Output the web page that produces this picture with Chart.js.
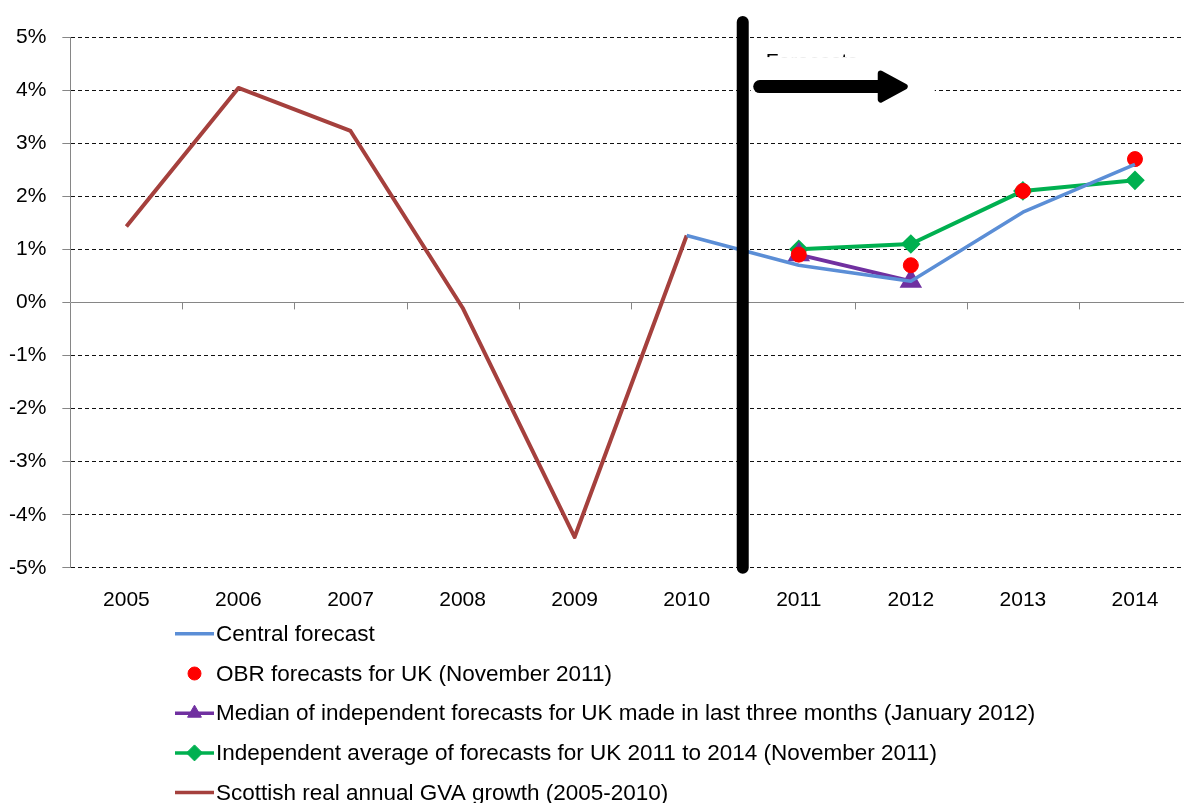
<!DOCTYPE html>
<html>
<head>
<meta charset="utf-8">
<title>Scottish GVA growth and forecasts</title>
<script src="https://cdn.jsdelivr.net/npm/chart.js@4.4.1/dist/chart.umd.min.js"></script>
<style>
  html, body { margin: 0; padding: 0; background: #fff; overflow: hidden; }
</style>
</head>
<body>
<canvas id="chart" width="1204" height="803"></canvas>
<script>
const years = ['2005', '2006', '2007', '2008', '2009', '2010', '2011', '2012', '2013', '2014']

// annual growth, %
const centralForecast = [null, null, null, null, null, 1.26, 0.7, 0.4, 1.7, 2.6]
const obrForecast     = [null, null, null, null, null, null, 0.9, 0.7, 2.1, 2.7]
const medianForecast  = [null, null, null, null, null, null, 0.9, 0.4, null, null]
const independentAvg  = [null, null, null, null, null, null, 1.0, 1.1, 2.1, 2.3]
const scottishGva     = [1.43, 4.04, 3.23, -0.1, -4.42, 1.26, null, null, null, null]

const seriesLabels = [
  'Central forecast',
  'OBR forecasts for UK (November 2011)',
  'Median of independent forecasts for UK made in last three months (January 2012)',
  'Independent average of forecasts for UK 2011 to 2014 (November 2011)',
  'Scottish real annual GVA growth (2005-2010)'
]

const yMin = -5
const yMax = 5
const forecastLabel = 'Forecasts'

const FONT = 'Liberation Sans, Arial, sans-serif'
const AXIS_GREY = '#868686'

// thick black divider between actuals and forecasts, plus the arrow
const forecastMarker = {
  id: 'forecastMarker',
  afterDatasetsDraw(chart) {
    const { ctx, scales: { x, y } } = chart
    const barX = (x.getPixelForValue(5) + x.getPixelForValue(6)) / 2

    // small ticks on the zero line at category boundaries
    const zeroY = y.getPixelForValue(0)
    ctx.save()
    ctx.strokeStyle = AXIS_GREY
    ctx.lineWidth = 1
    for (let i = 1; i < years.length; i++) {
      const bx = Math.round((x.getPixelForValue(i - 1) + x.getPixelForValue(i)) / 2) + 0.5
      ctx.beginPath()
      ctx.moveTo(bx, zeroY)
      ctx.lineTo(bx, zeroY + 7)
      ctx.stroke()
    }
    ctx.restore()

    // label peeking out above its text box
    const arrowY = y.getPixelForValue(4) - 3.5
    ctx.save()
    ctx.fillStyle = '#000'
    ctx.font = '21px ' + FONT
    ctx.textBaseline = 'alphabetic'
    ctx.fillText(forecastLabel, barX + 23, arrowY - 19)
    ctx.fillStyle = '#fff'
    ctx.fillRect(barX + 8, arrowY - 29.5, 184, 60)
    ctx.restore()

    // arrow
    ctx.save()
    ctx.fillStyle = '#000'
    ctx.strokeStyle = '#000'
    ctx.lineJoin = 'round'
    ctx.lineCap = 'round'
    ctx.lineWidth = 13
    ctx.beginPath()
    ctx.moveTo(barX + 17, arrowY)
    ctx.lineTo(barX + 138, arrowY)
    ctx.stroke()
    ctx.lineWidth = 6
    ctx.beginPath()
    ctx.moveTo(barX + 138, arrowY - 13)
    ctx.lineTo(barX + 162, arrowY)
    ctx.lineTo(barX + 138, arrowY + 13)
    ctx.closePath()
    ctx.fill()
    ctx.stroke()
    ctx.restore()

    // divider
    ctx.save()
    ctx.strokeStyle = '#000'
    ctx.lineWidth = 12
    ctx.lineCap = 'round'
    ctx.beginPath()
    ctx.moveTo(barX, y.top - 15)
    ctx.lineTo(barX, y.bottom)
    ctx.stroke()
    ctx.restore()
  }
}

// vertical legend under the x axis
const listLegend = {
  id: 'listLegend',
  afterDraw(chart) {
    const { ctx, chartArea } = chart
    const top = chartArea.bottom + 66
    const row = 39.7
    const swL = 175, swR = 214, textX = 216
    ctx.save()
    ctx.font = '22.5px ' + FONT
    ctx.textBaseline = 'middle'
    chart.data.datasets.forEach((ds, i) => {
      const cy = top + i * row
      if (ds.showLine !== false) {
        ctx.strokeStyle = ds.borderColor
        ctx.lineWidth = 3.5
        ctx.beginPath()
        ctx.moveTo(swL, cy)
        ctx.lineTo(swR, cy)
        ctx.stroke()
      }
      if (ds.pointRadius) {
        ctx.fillStyle = ds.pointBackgroundColor
        ctx.strokeStyle = ds.pointBorderColor
        ctx.lineWidth = 1
        Chart.helpers.drawPoint(ctx, {
          pointStyle: ds.pointStyle,
          radius: ds.pointStyle === 'circle' ? 6.5 : 8,
          borderWidth: 1,
          rotation: 0
        }, (swL + swR) / 2, cy)
      }
      ctx.fillStyle = '#000'
      ctx.fillText(ds.label, textX, cy + 1)
    })
    ctx.restore()
  }
}

new Chart(document.getElementById('chart'), {
  type: 'line',
  data: {
    labels: years,
    datasets: [
      {
        label: seriesLabels[0],
        data: centralForecast,
        borderColor: '#5B8ED6',
        borderWidth: 3.5,
        pointRadius: 0,
        spanGaps: false
      },
      {
        label: seriesLabels[1],
        data: obrForecast,
        showLine: false,
        pointStyle: 'circle',
        pointRadius: 7.5,
        pointBackgroundColor: '#FF0000',
        pointBorderColor: '#FF0000',
        borderColor: '#FF0000'
      },
      {
        label: seriesLabels[2],
        data: medianForecast,
        borderColor: '#7030A0',
        borderWidth: 4,
        pointStyle: 'triangle',
        pointRadius: 9,
        pointBackgroundColor: '#7030A0',
        pointBorderColor: '#7030A0'
      },
      {
        label: seriesLabels[3],
        data: independentAvg,
        borderColor: '#00B050',
        borderWidth: 4,
        pointStyle: 'rectRot',
        pointRadius: 7,
        pointBackgroundColor: '#00B050',
        pointBorderColor: '#00B050'
      },
      {
        label: seriesLabels[4],
        data: scottishGva,
        borderColor: '#A5403D',
        borderWidth: 4,
        pointRadius: 0
      }
    ]
  },
  options: {
    responsive: false,
    animation: false,
    devicePixelRatio: 1,
    layout: { padding: { left: -7, top: 37, right: 0, bottom: 170 } },
    plugins: {
      legend: { display: false },
      tooltip: { enabled: false }
    },
    elements: { line: { tension: 0, borderJoinStyle: 'round' } },
    scales: {
      x: {
        offset: true,
        grid: { display: false, drawTicks: false },
        border: { display: false },
        ticks: {
          color: '#000',
          font: { size: 21, family: FONT },
          padding: 20,
          maxRotation: 0,
          autoSkip: false
        }
      },
      y: {
        min: yMin,
        max: yMax,
        ticks: {
          stepSize: 1,
          color: '#000',
          font: { size: 21, family: FONT },
          padding: 16,
          callback: v => v + '%'
        },
        grid: {
          color: ctx => (ctx.tick && ctx.tick.value === 0 ? AXIS_GREY : '#111'),
          lineWidth: 1,
          tickLength: 8,
          tickColor: AXIS_GREY,
          tickBorderDash: []
        },
        border: {
          color: AXIS_GREY,
          width: 1,
          dash: ctx => (ctx.tick && ctx.tick.value === 0 ? [] : [4, 3])
        }
      }
    }
  },
  plugins: [forecastMarker, listLegend]
})
</script>
</body>
</html>
